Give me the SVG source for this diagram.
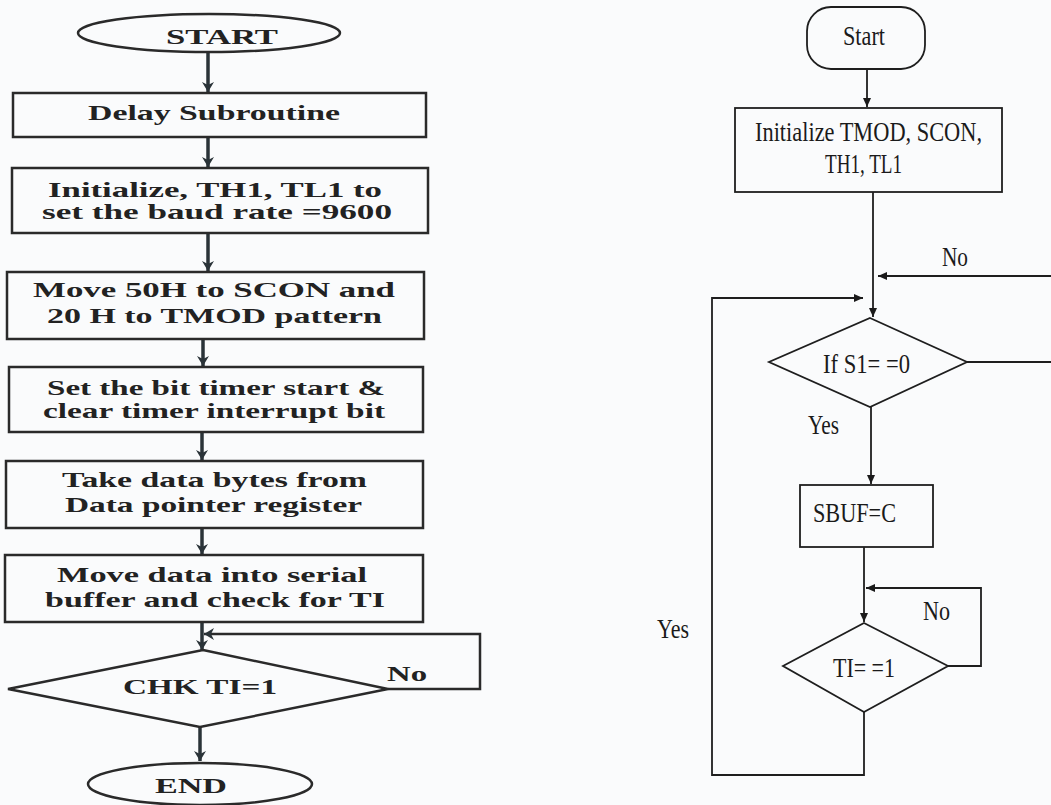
<svg xmlns="http://www.w3.org/2000/svg" width="1051" height="805" viewBox="0 0 1051 805">
<defs>
<marker id="ahL" markerWidth="12" markerHeight="12" refX="10" refY="6" orient="auto" markerUnits="userSpaceOnUse">
<path d="M0,0 L10,6 L0,12 L3,6 Z" fill="#2a3338"/>
</marker>
<marker id="ahR" markerWidth="10" markerHeight="10" refX="9" refY="5" orient="auto" markerUnits="userSpaceOnUse">
<path d="M0,1 L9,5 L0,9 Z" fill="#1a1a1a"/>
</marker>
</defs>
<style>
.bg{fill:#fafbfc}
.lbox{fill:none;stroke:#2a2a2a;stroke-width:2.5}
.lcon{fill:none;stroke:#2a3338;stroke-width:3.5}
.lt{font-family:"Liberation Serif","Times New Roman",serif;font-size:21px;font-weight:bold;fill:#222}
.rbox{fill:none;stroke:#1e1e1e;stroke-width:1.8}
.rcon{fill:none;stroke:#1e1e1e;stroke-width:1.8}
.rt{font-family:"Liberation Serif","Times New Roman",serif;font-size:28px;fill:#1a1a1a}
</style>
<rect class="bg" x="0" y="0" width="1051" height="805"/>

<!-- Left chart connectors -->
<g id="left-connectors">
<line class="lcon" x1="208" y1="53" x2="208" y2="92" marker-end="url(#ahL)"/>
<line class="lcon" x1="208" y1="137" x2="208" y2="167" marker-end="url(#ahL)"/>
<line class="lcon" x1="208" y1="233" x2="208" y2="271" marker-end="url(#ahL)"/>
<line class="lcon" x1="203" y1="339" x2="203" y2="366" marker-end="url(#ahL)"/>
<line class="lcon" x1="202" y1="432" x2="202" y2="460" marker-end="url(#ahL)"/>
<line class="lcon" x1="202" y1="528" x2="202" y2="554" marker-end="url(#ahL)"/>
<line class="lcon" x1="202" y1="622" x2="202" y2="650" marker-end="url(#ahL)"/>
<polyline class="lbox" points="388,689 480,689 480,634 204,634" marker-end="url(#ahL)"/>
<line class="lcon" x1="200" y1="727" x2="200" y2="761" marker-end="url(#ahL)"/>
</g>

<g id="l-start">
<ellipse class="lbox" cx="209" cy="33" rx="131" ry="19"/>
<text class="lt" x="166" y="44" textLength="112" lengthAdjust="spacingAndGlyphs" font-size="22">START</text>
</g>
<g id="l-delay">
<rect class="lbox" x="13" y="93" width="413" height="44"/>
<text class="lt" x="88" y="120" textLength="252" lengthAdjust="spacingAndGlyphs">Delay Subroutine</text>
</g>
<g id="l-init">
<rect class="lbox" x="12" y="168" width="416" height="65"/>
<text class="lt" x="48" y="197" textLength="334" lengthAdjust="spacingAndGlyphs">Initialize, TH1, TL1 to</text>
<text class="lt" x="42" y="219" textLength="350" lengthAdjust="spacingAndGlyphs">set the baud rate =9600</text>
</g>
<g id="l-move50">
<rect class="lbox" x="7" y="272" width="417" height="67"/>
<text class="lt" x="33" y="297" textLength="362" lengthAdjust="spacingAndGlyphs">Move 50H to SCON and</text>
<text class="lt" x="47" y="323" textLength="335" lengthAdjust="spacingAndGlyphs">20 H to TMOD pattern</text>
</g>
<g id="l-setbit">
<rect class="lbox" x="9" y="367" width="414" height="65"/>
<text class="lt" x="47" y="395" textLength="338" lengthAdjust="spacingAndGlyphs">Set the bit timer start &amp;</text>
<text class="lt" x="43" y="418" textLength="342" lengthAdjust="spacingAndGlyphs">clear timer interrupt bit</text>
</g>
<g id="l-take">
<rect class="lbox" x="6" y="461" width="417" height="67"/>
<text class="lt" x="62" y="487" textLength="305" lengthAdjust="spacingAndGlyphs">Take data bytes from</text>
<text class="lt" x="65" y="512" textLength="297" lengthAdjust="spacingAndGlyphs">Data pointer register</text>
</g>
<g id="l-movedata">
<rect class="lbox" x="5" y="555" width="418" height="67"/>
<text class="lt" x="57" y="582" textLength="310" lengthAdjust="spacingAndGlyphs">Move data into serial</text>
<text class="lt" x="45" y="607" textLength="340" lengthAdjust="spacingAndGlyphs">buffer and check for TI</text>
</g>
<g id="l-chk">
<polygon class="lbox" points="203,650 388,689 200,727 8,689"/>
<text class="lt" x="123" y="694" textLength="154" lengthAdjust="spacingAndGlyphs">CHK TI=1</text>
<text class="lt" x="387" y="681" textLength="40" lengthAdjust="spacingAndGlyphs">No</text>
</g>
<g id="l-end">
<ellipse class="lbox" cx="200" cy="784" rx="112" ry="21"/>
<text class="lt" x="155" y="793" textLength="72" lengthAdjust="spacingAndGlyphs">END</text>
</g>

<!-- Right chart connectors -->
<g id="right-connectors">
<line class="rcon" x1="867" y1="69" x2="867" y2="107" marker-end="url(#ahR)"/>
<line class="rcon" x1="873" y1="192" x2="873" y2="317" marker-end="url(#ahR)"/>
<polyline class="rcon" points="967,362 1060,362 1060,276 878,276" marker-end="url(#ahR)"/>
<line class="rcon" x1="871" y1="407" x2="871" y2="484" marker-end="url(#ahR)"/>
<line class="rcon" x1="864" y1="547" x2="864" y2="622" marker-end="url(#ahR)"/>
<polyline class="rcon" points="948,666 981,666 981,588 866,588" marker-end="url(#ahR)"/>
<polyline class="rcon" points="864,712 864,775 712,775 712,298 863,298" marker-end="url(#ahR)"/>
</g>

<g id="r-start">
<rect class="rbox" x="807" y="7" width="118" height="62" rx="24" ry="24"/>
<text class="rt" x="843" y="45" textLength="42" lengthAdjust="spacingAndGlyphs" font-size="29">Start</text>
</g>
<g id="r-init">
<rect class="rbox" x="735" y="108" width="267" height="84"/>
<text class="rt" x="755" y="141" textLength="227" lengthAdjust="spacingAndGlyphs">Initialize TMOD, SCON,</text>
<text class="rt" x="825" y="173" textLength="77" lengthAdjust="spacingAndGlyphs">TH1, TL1</text>
</g>
<g id="r-if">
<polygon class="rbox" points="870,318 967,362 870,407 769,362"/>
<text class="rt" x="823" y="373" textLength="87" lengthAdjust="spacingAndGlyphs">If S1= =0</text>
</g>
<g id="r-sbuf">
<rect class="rbox" x="800" y="485" width="133" height="62"/>
<text class="rt" x="813" y="522" textLength="83" lengthAdjust="spacingAndGlyphs">SBUF=C</text>
</g>
<g id="r-ti">
<polygon class="rbox" points="864,623 948,666 864,712 783,666"/>
<text class="rt" x="833" y="677" textLength="62" lengthAdjust="spacingAndGlyphs">TI= =1</text>
</g>
<g id="r-labels">
<text class="rt" x="942" y="266" textLength="26" lengthAdjust="spacingAndGlyphs">No</text>
<text class="rt" x="808" y="434" textLength="31" lengthAdjust="spacingAndGlyphs">Yes</text>
<text class="rt" x="923" y="620" textLength="27" lengthAdjust="spacingAndGlyphs">No</text>
<text class="rt" x="657" y="638" textLength="32" lengthAdjust="spacingAndGlyphs">Yes</text>
</g>
</svg>
